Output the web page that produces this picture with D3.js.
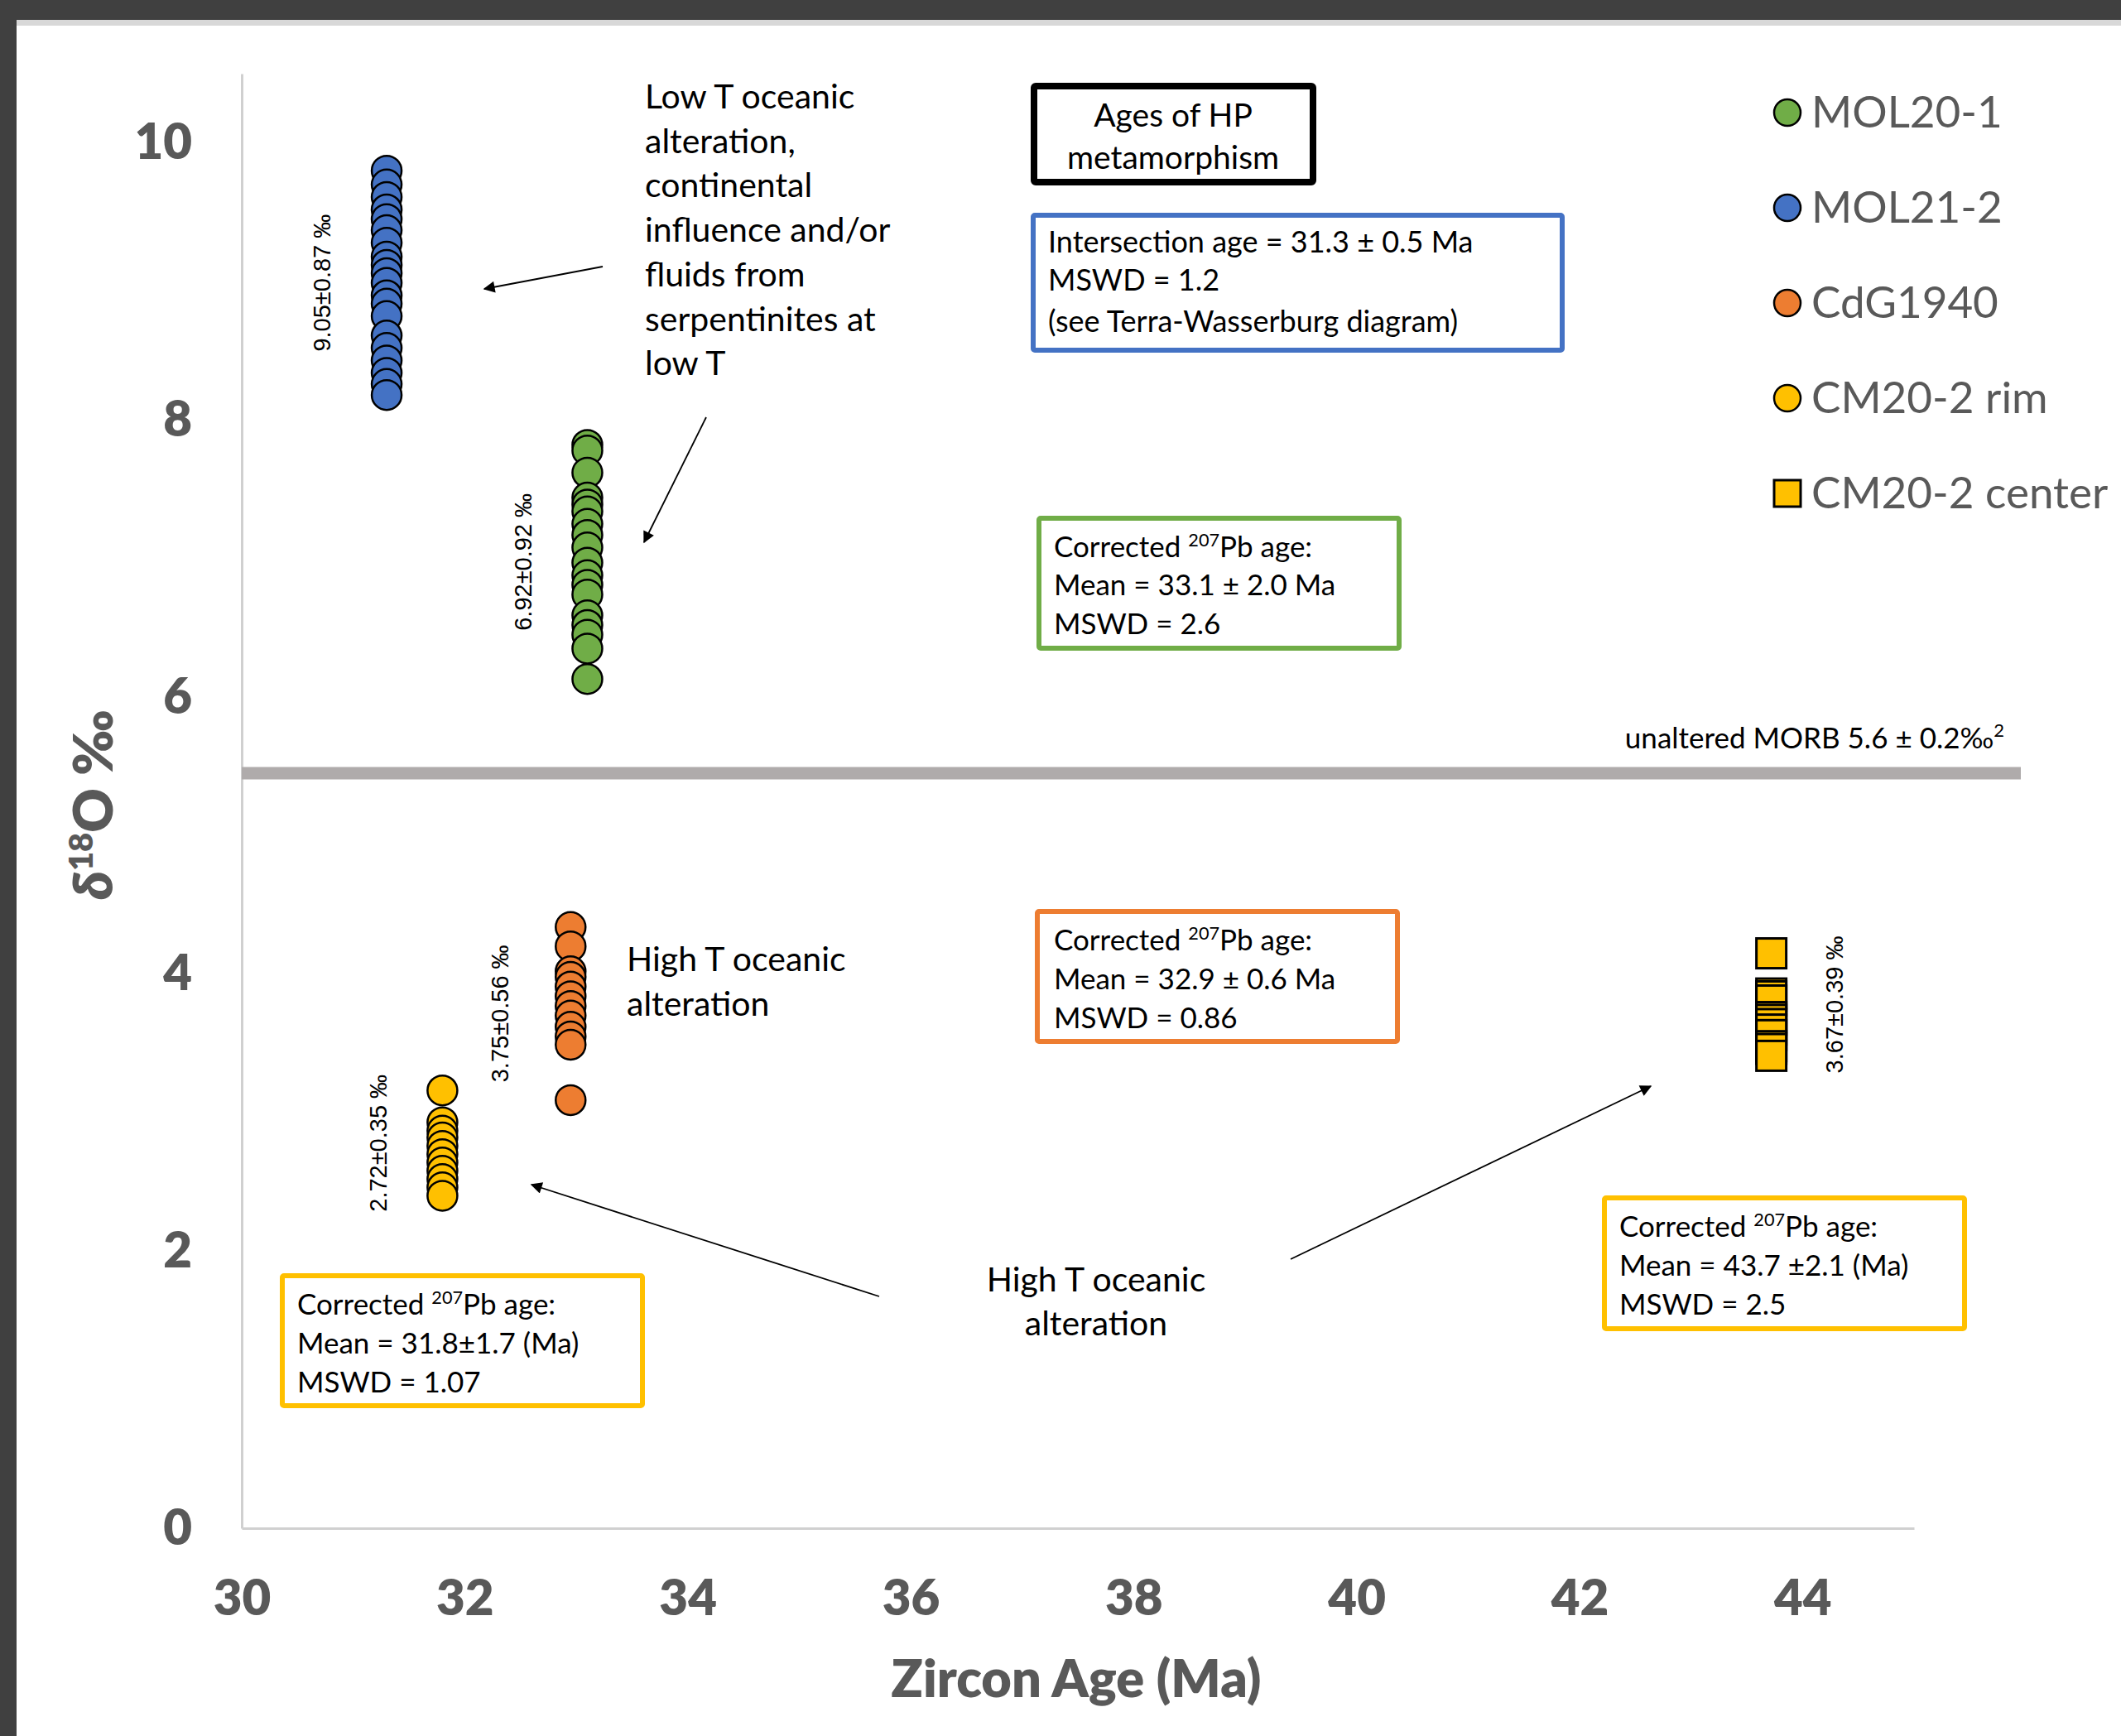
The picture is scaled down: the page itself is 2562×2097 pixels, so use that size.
<!DOCTYPE html>
<html><head><meta charset="utf-8">
<script src="https://cdn.jsdelivr.net/npm/d3@7"></script>
<style>html,body{margin:0;padding:0;background:#fff;} svg{display:block}</style>
</head><body>
<svg id="chart" width="2562" height="2097"></svg>
<script>
// ---------------- DATA ----------------
const xTicks = [30, 32, 34, 36, 38, 40, 42, 44];
const yTicks = [0, 2, 4, 6, 8, 10];
const seriesNames = ["MOL20-1", "MOL21-2", "CdG1940", "CM20-2 rim", "CM20-2 center"];
const seriesAges = [33.1, 31.3, 32.95, 31.8, 43.72];
const mol20_1 = [7.82, 7.78, 7.62, 7.44, 7.39, 7.34, 7.25, 7.17, 7.08, 6.97, 6.88, 6.81, 6.74, 6.59, 6.52, 6.45, 6.35, 6.13];
const mol21_2 = [9.80, 9.70, 9.61, 9.52, 9.45, 9.37, 9.28, 9.18, 9.12, 9.06, 8.99, 8.90, 8.84, 8.75, 8.61, 8.52, 8.43, 8.34, 8.26, 8.18];
const cdg1940 = [4.34, 4.20, 4.02, 3.98, 3.91, 3.84, 3.77, 3.70, 3.62, 3.55, 3.49, 3.09];
const cm20_2rim = [3.16, 2.93, 2.87, 2.82, 2.76, 2.70, 2.64, 2.58, 2.52, 2.46, 2.40];
const cm20_2center = [4.15, 3.86, 3.84, 3.81, 3.69, 3.67, 3.64, 3.60, 3.56, 3.48, 3.46, 3.41];
const seriesValues = [mol20_1, mol21_2, cdg1940, cm20_2rim, cm20_2center];
const seriesStats = ["6.92±0.92 ‰", "9.05±0.87 ‰", "3.75±0.56 ‰", "2.72±0.35 ‰", "3.67±0.39 ‰"];
const morbValue = 5.45;
const morbLabel = ["unaltered MORB 5.6 ± 0.2‰", "2"];

// ---------------- STYLE / LAYOUT ----------------
const seriesColors = ["#70AD47", "#4472C4", "#ED7D31", "#FFC000", "#FFC000"];
const seriesShapes = ["circle", "circle", "circle", "circle", "square"];
const W = 2562, H = 2097;
const svg = d3.select("#chart");
const FONT = "Lato, 'Open Sans', sans-serif";
const ARIAL = "'Liberation Sans', Arial, sans-serif";
const GRAY = "#595959";

// frame
svg.append("rect").attr("x", 0).attr("y", 0).attr("width", W).attr("height", H).attr("fill", "#fff");
svg.append("rect").attr("x", 20).attr("y", 24).attr("width", W - 20).attr("height", 7).attr("fill", "#d8d8d8");
svg.append("rect").attr("x", 0).attr("y", 0).attr("width", W).attr("height", 24).attr("fill", "#404040");
svg.append("rect").attr("x", 0).attr("y", 0).attr("width", 20).attr("height", H).attr("fill", "#404040");

const x = d3.scaleLinear().domain([30, 45]).range([292, 2312]);
const y = d3.scaleLinear().domain([0, 10.5]).range([1846, 89]);

// axes
const gx = svg.append("g").attr("transform", `translate(0,${y(0)})`)
  .call(d3.axisBottom(x).tickValues(xTicks).tickSize(0).tickPadding(62).tickFormat(d3.format("d")));
const gy = svg.append("g").attr("transform", `translate(${x(30)},0)`)
  .call(d3.axisLeft(y).tickValues(yTicks).tickSize(0).tickPadding(60).tickFormat(d3.format("d")));
[gx, gy].forEach(g => {
  g.select(".domain").attr("stroke", "#d0d0d0").attr("stroke-width", 3);
  g.selectAll("text").attr("fill", GRAY).attr("font-family", FONT).attr("font-weight", 800).attr("font-size", 60);
});

// axis titles
svg.append("text").attr("x", 1300).attr("y", 2050).attr("text-anchor", "middle")
  .attr("font-family", FONT).attr("font-weight", 800).attr("font-size", 63).attr("fill", GRAY)
  .text("Zircon Age (Ma)");
const yt = svg.append("text").attr("transform", "translate(136,972) rotate(-90)").attr("text-anchor", "middle")
  .attr("font-family", FONT).attr("font-weight", 800).attr("font-size", 66).attr("fill", GRAY);
yt.append("tspan").attr("font-style", "italic").text("δ");
yt.append("tspan").attr("font-size", 40).attr("dy", -24).text("18");
yt.append("tspan").attr("dy", 24).text("O ‰");

// MORB reference line
svg.append("line").attr("x1", x(30)).attr("x2", 2441).attr("y1", y(morbValue)).attr("y2", y(morbValue))
  .attr("stroke", "#AFABAB").attr("stroke-width", 15);
const mt = svg.append("text").attr("x", 2421).attr("y", 904).attr("text-anchor", "end")
  .attr("font-family", FONT).attr("font-size", 35).attr("fill", "#000");
mt.append("tspan").text(morbLabel[0]);
mt.append("tspan").attr("font-size", 22).attr("dy", -14).text(morbLabel[1]);

// data points
seriesNames.forEach((name, i) => {
  const g = svg.append("g");
  const vals = seriesValues[i];
  if (seriesShapes[i] === "circle") {
    g.selectAll("circle").data(vals).join("circle")
      .attr("cx", x(seriesAges[i])).attr("cy", d => y(d)).attr("r", 18)
      .attr("fill", seriesColors[i]).attr("stroke", "#000").attr("stroke-width", 2.5);
  } else {
    g.selectAll("rect").data(vals).join("rect")
      .attr("x", x(seriesAges[i]) - 18).attr("y", d => y(d) - 18).attr("width", 36).attr("height", 36)
      .attr("fill", seriesColors[i]).attr("stroke", "#000").attr("stroke-width", 3);
  }
});

// stat labels (rotated), placed relative to series
const statOffsets = [-67, -68, -75, -67, 86];
seriesNames.forEach((name, i) => {
  const vals = seriesValues[i];
  const cy = (y(d3.max(vals)) + y(d3.min(vals))) / 2;
  const cx = x(seriesAges[i]) + statOffsets[i];
  svg.append("text").attr("transform", `translate(${cx},${cy}) rotate(-90)`)
    .attr("text-anchor", "middle").attr("font-family", ARIAL).attr("font-size", 29).attr("fill", "#000")
    .text(seriesStats[i]);
});

// legend
seriesNames.forEach((name, i) => {
  const ly = 136 + i * 115;
  if (seriesShapes[i] === "circle") {
    svg.append("circle").attr("cx", 2159).attr("cy", ly).attr("r", 16)
      .attr("fill", seriesColors[i]).attr("stroke", "#000").attr("stroke-width", 2.5);
  } else {
    svg.append("rect").attr("x", 2143).attr("y", ly - 16).attr("width", 32).attr("height", 32)
      .attr("fill", seriesColors[i]).attr("stroke", "#000").attr("stroke-width", 3);
  }
  svg.append("text").attr("x", 2188).attr("y", ly + 18).attr("font-family", FONT).attr("font-size", 53)
    .attr("fill", GRAY).text(name);
});

// helpers
function richText(xp, yp, parts, size, anchor) {
  const t = svg.append("text").attr("x", xp).attr("y", yp).attr("font-family", FONT)
    .attr("font-size", size).attr("fill", "#000").attr("text-anchor", anchor || "start");
  parts.forEach(p => {
    if (p.sup) {
      t.append("tspan").attr("font-size", size * 0.62).attr("dy", -size * 0.38).text(p.t);
    } else {
      t.append("tspan").attr("dy", p.after ? size * 0.38 : 0).text(p.t);
    }
  });
  return t;
}
function box(x0, y0, x1, y1, color, sw) {
  svg.append("rect").attr("x", x0).attr("y", y0).attr("width", x1 - x0).attr("height", y1 - y0)
    .attr("fill", "#fff").attr("stroke", color).attr("stroke-width", sw).attr("rx", 2);
}
const corrected = (sp) => [{t: "Corrected " + sp}, {t: "207", sup: true}, {t: "Pb age:", after: true}];

// boxes
box(1249, 104, 1586, 220, "#000", 8);
richText(1417, 153, [{t: "Ages of HP"}], 39, "middle");
richText(1417, 204, [{t: "metamorphism"}], 39, "middle");

box(1248, 260, 1887, 423, "#4472C4", 6);
[["Intersection age = 31.3 ± 0.5 Ma"], ["MSWD = 1.2"], ["(see Terra-Wasserburg diagram)"]]
  .forEach((l, i) => richText(1266, [305, 351, 401][i], [{t: l[0]}], 36));

box(1255, 626, 1690, 783, "#70AD47", 6);
richText(1273, 673, corrected("  "), 35);
richText(1273, 719, [{t: "Mean = 33.1 ± 2.0 Ma"}], 35);
richText(1273, 766, [{t: "MSWD = 2.6"}], 35);

box(1253, 1101, 1688, 1258, "#ED7D31", 6);
richText(1273, 1148, corrected("  "), 35);
richText(1273, 1195, [{t: "Mean = 32.9 ± 0.6 Ma"}], 35);
richText(1273, 1242, [{t: "MSWD = 0.86"}], 35);

box(341, 1541, 776, 1698, "#FFC000", 6);
richText(359, 1588, corrected(""), 35);
richText(359, 1635, [{t: "Mean = 31.8±1.7 (Ma)"}], 35);
richText(359, 1682, [{t: "MSWD = 1.07"}], 35);

box(1938, 1447, 2373, 1605, "#FFC000", 6);
richText(1956, 1494, corrected(""), 35);
richText(1956, 1541, [{t: "Mean = 43.7 ±2.1 (Ma)"}], 35);
richText(1956, 1588, [{t: "MSWD = 2.5"}], 35);

// free annotations
const lowT = ["Low T oceanic", "alteration,", "continental", "influence and/or", "fluids from", "serpentinites at", "low T"];
lowT.forEach((l, i) => richText(779, 131 + i * 53.7, [{t: l}], 41));
["High T oceanic", "alteration"].forEach((l, i) => richText(757, 1173 + i * 54, [{t: l}], 41));
["High T oceanic", "alteration"].forEach((l, i) => richText(1324, 1560 + i * 53, [{t: l}], 41, "middle"));

// arrows
const defs = svg.append("defs");
defs.append("marker").attr("id", "ah").attr("viewBox", "0 0 10 10").attr("refX", 9).attr("refY", 5)
  .attr("markerWidth", 16).attr("markerHeight", 14).attr("markerUnits", "userSpaceOnUse")
  .attr("orient", "auto").append("path").attr("d", "M0,0 L10,5 L0,10 z").attr("fill", "#000");
const arrows = [[728, 322, 585, 349], [853, 504, 778, 655], [1062, 1566, 642, 1431], [1559, 1521, 1994, 1312]];
arrows.forEach(a => svg.append("line").attr("x1", a[0]).attr("y1", a[1]).attr("x2", a[2]).attr("y2", a[3])
  .attr("stroke", "#000").attr("stroke-width", 1.8).attr("marker-end", "url(#ah)"));
</script>
</body></html>
